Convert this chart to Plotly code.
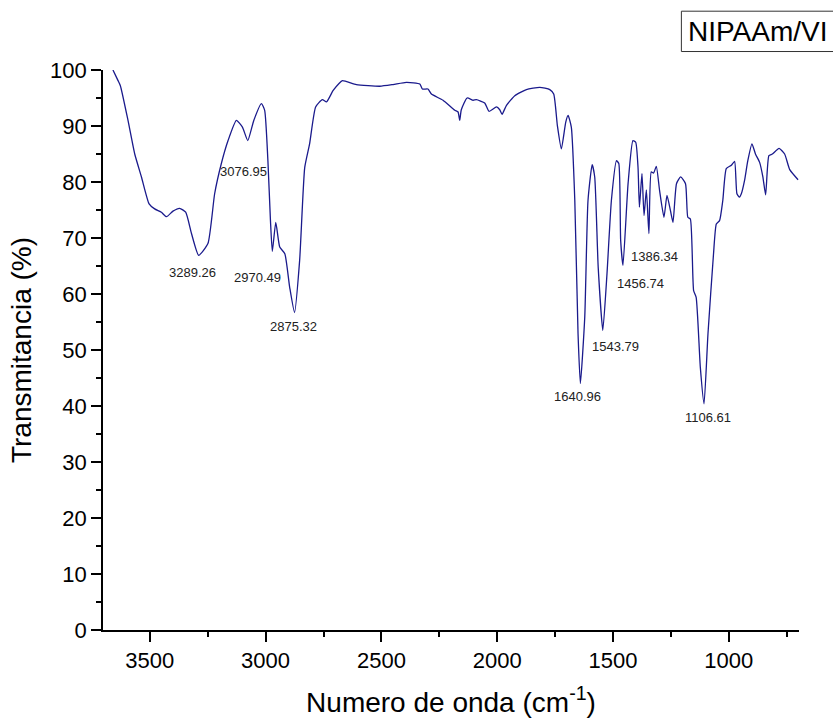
import plotly.graph_objects as go

# FTIR spectrum
wavenumber = [3659, 3637, 3627, 3594, 3565, 3536, 3503, 3479, 3450, 3428, 3400, 3371, 3345, 3320,
              3289, 3249, 3220, 3191, 3162, 3126, 3100, 3077, 3051, 3018, 3004, 2990, 2979, 2971,
              2956, 2939, 2917, 2896, 2875, 2853, 2831, 2810, 2784, 2755, 2737, 2709, 2683, 2668,
              2608, 2507, 2450, 2392, 2334, 2323, 2299, 2284, 2234, 2183, 2169, 2162, 2155, 2130,
              2104, 2090, 2054, 2035, 2003, 1989, 1979, 1960, 1924, 1874, 1816, 1773, 1756, 1740,
              1723, 1704, 1694, 1680, 1665, 1651, 1641, 1622, 1608, 1590, 1579, 1564, 1544, 1526,
              1507, 1485, 1475, 1467, 1457, 1435, 1414, 1402, 1392, 1386, 1375, 1366, 1356, 1345,
              1335, 1325, 1313, 1299, 1280, 1267, 1252, 1241, 1226, 1208, 1187, 1177, 1166, 1152,
              1141, 1123, 1107, 1090, 1066, 1054, 1040, 1026, 1011, 989, 975, 965, 954, 946, 932,
              918, 900, 885, 867, 853, 841, 827, 812, 783, 759, 737, 701]
transmittance = [100.0, 98.1, 97.2, 91.0, 85.0, 80.9, 76.1, 75.2, 74.6, 73.8, 74.8, 75.3, 74.6, 70.8,
                 66.9, 69.0, 77.9, 83.3, 87.4, 91.0, 89.8, 87.4, 91.0, 94.0, 92.8, 83.8, 73.1, 67.6,
                 72.8, 68.4, 67.2, 61.2, 56.7, 66.0, 82.6, 86.8, 93.4, 94.7, 94.3, 96.3, 97.6, 98.1,
                 97.4, 97.1, 97.4, 97.8, 97.5, 96.6, 96.6, 95.7, 94.6, 92.8, 92.5, 91.0, 92.9, 95.0,
                 94.6, 94.7, 94.1, 92.6, 93.4, 92.9, 92.1, 93.7, 95.4, 96.5, 96.9, 96.5, 95.7, 90.0,
                 85.9, 90.7, 91.9, 89.8, 76.7, 52.9, 44.0, 55.9, 76.7, 83.1, 80.9, 64.8, 53.5, 63.6,
                 76.7, 83.8, 83.3, 69.6, 65.1, 79.7, 87.4, 87.1, 82.6, 75.5, 81.5, 74.0, 78.6, 70.8,
                 81.8, 81.6, 82.8, 78.5, 73.7, 77.6, 74.9, 72.8, 79.7, 80.9, 79.7, 73.7, 73.4, 60.6,
                 59.4, 46.9, 40.4, 52.9, 67.2, 72.5, 73.1, 76.7, 82.4, 83.0, 83.7, 77.9, 77.3, 77.9, 80.3,
                 83.8, 86.8, 85.0, 83.5, 80.9, 77.7, 84.7, 85.0, 86.0, 85.0, 82.2, 80.4]

peak_wn = [3289.26, 3076.95, 2970.49, 2875.32, 1640.96, 1543.79, 1456.74, 1386.34, 1106.61]
peak_T = [66.9, 87.4, 67.6, 56.7, 44.0, 53.5, 65.1, 75.5, 40.4]
peak_text = ["3289.26", "3076.95", "2970.49", "2875.32", "1640.96", "1543.79", "1456.74", "1386.34", "1106.61"]
# label offsets in pixels (x right, y up)
label_shift = [(-6, -17), (-4, -31), (-15, -26), (-1, -14), (-3, -13), (13, -16), (17, -18), (15, -49), (4, -14)]

x_ticks = [3500, 3000, 2500, 2000, 1500, 1000]
y_ticks = [0, 10, 20, 30, 40, 50, 60, 70, 80, 90, 100]

FONT = "Liberation Sans, Arial, sans-serif"

fig = go.Figure()
fig.add_trace(go.Scatter(x=wavenumber, y=transmittance, mode="lines",
                         line=dict(color="#1a1a8c", width=1.3, shape="spline", smoothing=0.5),
                         showlegend=False))

for wn, t, txt, (dx, dy) in zip(peak_wn, peak_T, peak_text, label_shift):
    fig.add_annotation(x=wn, y=t, text=txt, showarrow=False, xshift=dx, yshift=dy,
                       font=dict(family=FONT, size=13, color="#222222"))

# sample name box (runs past the right edge like the reference)
fig.add_shape(type="rect", xref="paper", yref="paper", x0=0.831, x1=1.12, y0=1.033, y1=1.105,
              line=dict(color="#333333", width=1), fillcolor="white", layer="above")
fig.add_annotation(xref="paper", yref="paper", x=0.8375, y=1.069, xanchor="left", yanchor="middle",
                   text="NIPAAm/VI", showarrow=False,
                   font=dict(family=FONT, size=28, color="black"))

axis_common = dict(showgrid=False, zeroline=False, showline=True, linecolor="black", linewidth=1.6,
                   ticks="outside", ticklen=10, tickwidth=1.5, tickcolor="black",
                   tickfont=dict(family=FONT, size=22, color="black"))

fig.update_xaxes(range=[3702, 697], tickvals=x_ticks,
                 minor=dict(dtick=250, tick0=0, ticks="outside", ticklen=5, tickwidth=1.5, tickcolor="black"),
                 title=dict(text="Numero de onda (cm<sup>-1</sup>)", font=dict(family=FONT, size=28, color="black"),
                            standoff=20),
                 **axis_common)
fig.update_yaxes(range=[0, 100], tickvals=y_ticks,
                 minor=dict(dtick=5, tick0=0, ticks="outside", ticklen=5, tickwidth=1.5, tickcolor="black"),
                 title=dict(text="Transmitancia (%)", font=dict(family=FONT, size=28, color="black"),
                            standoff=10),
                 **axis_common)

fig.update_layout(width=833, height=721, margin=dict(l=103, r=34, t=70, b=91, autoexpand=False),
                  paper_bgcolor="white", plot_bgcolor="white",
                  font=dict(family=FONT))

fig.write_html("out.html")
